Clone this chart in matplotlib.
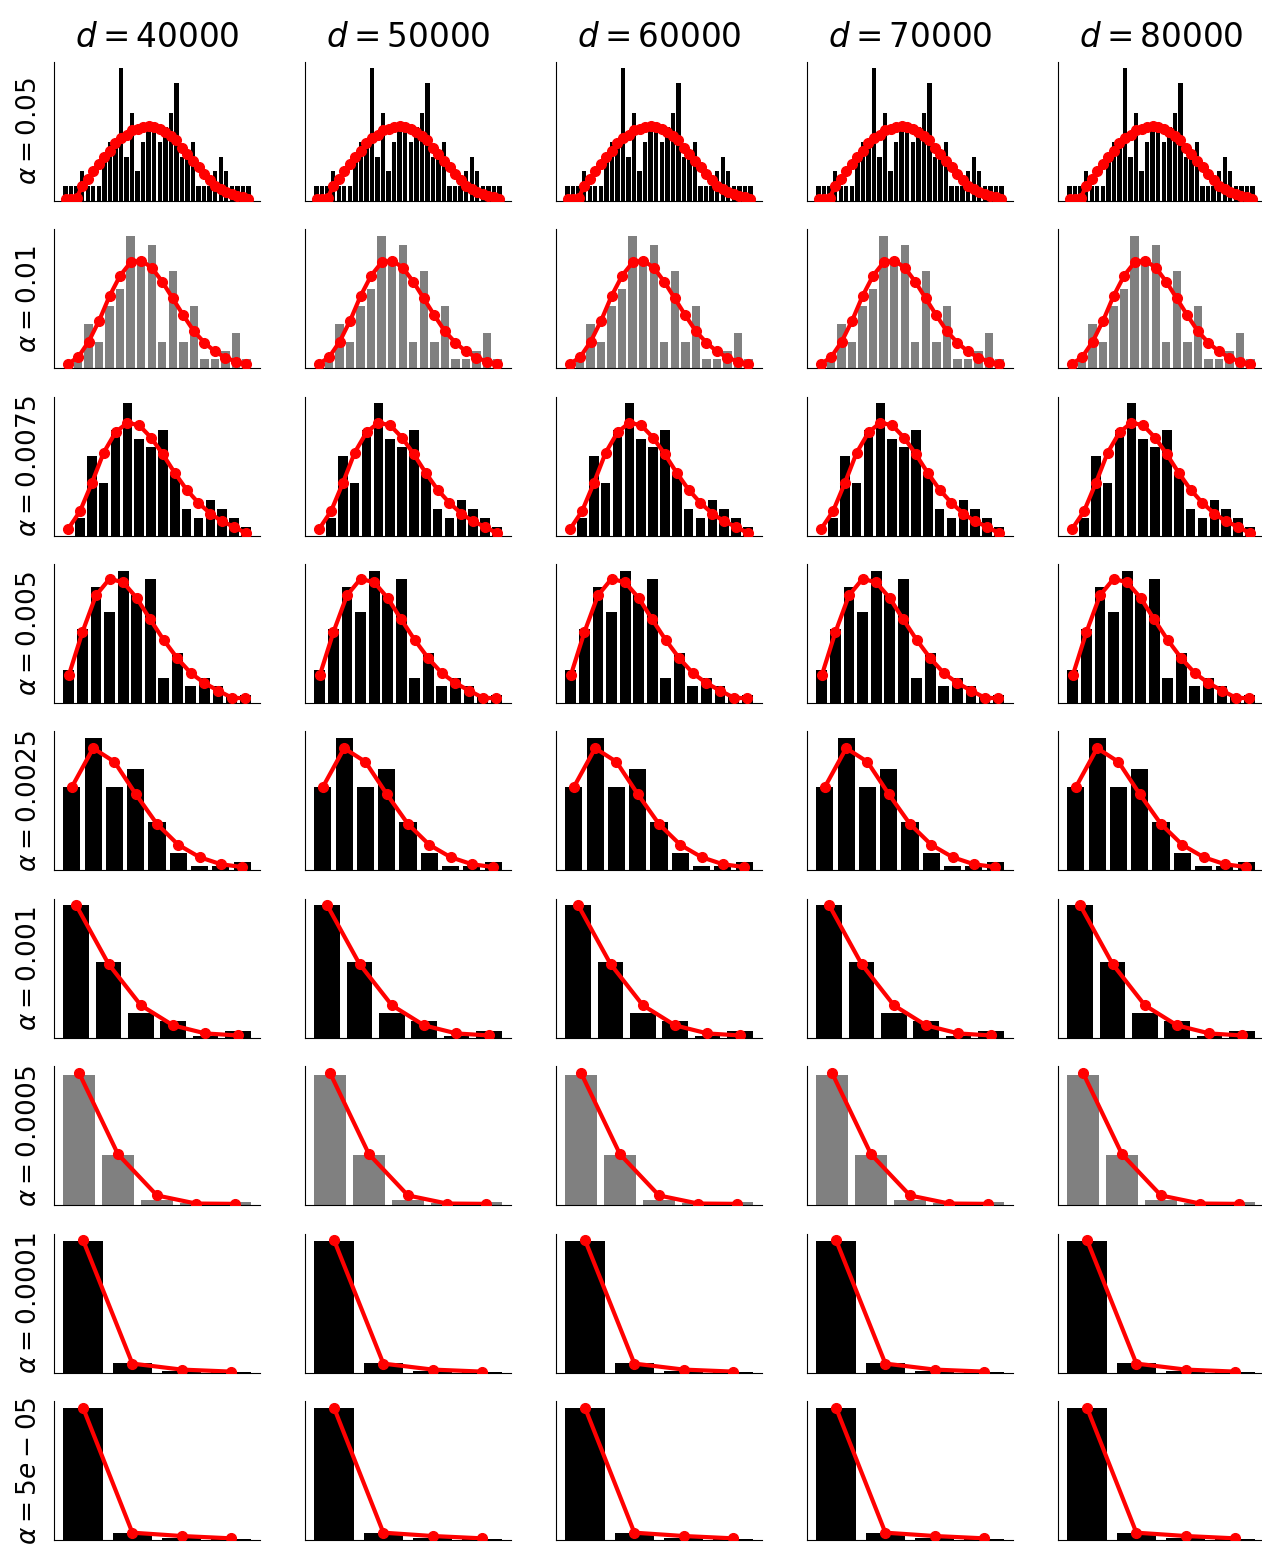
import numpy as np
import matplotlib
matplotlib.use("Agg")
import matplotlib.pyplot as plt

alphas = [0.05, 0.01, 0.0075, 0.005, 0.0025, 0.001, 0.0005, 0.0001, 5e-05]
dims = [40000, 50000, 60000, 70000, 80000]
bar_colors = ["black", "gray", "black", "black", "black", "black", "gray", "black", "black"]

# observed counts per bin (bins at 0, 1, 2, ...)
counts_a005 = [1, 1, 1, 2, 1, 1, 1, 3, 4, 4, 9, 3, 6, 2, 4, 5, 5, 4, 5, 6, 8, 3, 3, 4, 1, 1, 1, 2, 3, 2, 1, 1, 1, 1]
counts_a001 = [0, 1, 5, 3, 7, 9, 15, 12, 14, 3, 11, 3, 7, 1, 1, 2, 4, 1]
counts_a00075 = [0, 2, 9, 6, 12, 15, 11, 10, 12, 7, 3, 2, 4, 3, 2, 1]
counts_a0005 = [4, 9, 14, 11, 16, 13, 15, 3, 6, 2, 3, 2, 1, 1]
counts_a00025 = [19, 30, 19, 23, 11, 4, 1, 1, 2]
counts_a0001 = [79, 45, 15, 10, 1, 4]
counts_a00005 = [51, 19.5, 2, 1, 1.2]
counts_a00001 = [79, 6, 1, 0.6]
counts_a000005 = [79.6, 4.4, 1, 0.6]

# expected counts (red curve)
expected_a005 = [0.15, 0.15, 0.2, 1.0, 1.5, 2.0, 2.5, 3.0, 3.4, 3.9, 4.3, 4.5, 4.8, 4.9, 5.0, 5.1, 5.0,
                 4.9, 4.65, 4.4, 4.1, 3.6, 3.2, 2.7, 2.3, 1.8, 1.4, 1.0, 0.8, 0.6, 0.45, 0.35, 0.25, 0.15]
expected_a001 = [0.45, 1.25, 3.0, 5.4, 8.2, 10.5, 12.0, 12.2, 11.4, 9.8, 7.9, 6.0, 4.2, 2.9, 1.9, 1.2, 0.75, 0.5]
expected_a00075 = [0.75, 2.75, 5.95, 9.4, 11.7, 12.8, 12.5, 11.1, 9.2, 7.1, 5.2, 3.7, 2.5, 1.6, 1.0, 0.27]
expected_a0005 = [3.35, 8.55, 13.0, 15.0, 14.6, 12.7, 10.1, 7.6, 5.4, 3.6, 2.4, 1.5, 0.65, 0.56]
expected_a00025 = [18.9, 27.7, 24.6, 17.3, 10.5, 5.8, 3.0, 1.4, 0.76]
expected_a0001 = [79, 44, 19.4, 7.4, 2.6, 1.4]
expected_a00005 = [51.7, 19.9, 3.8, 0.65, 0.52]
expected_a00001 = [79.4, 5.4, 1.8, 0.6]
expected_a000005 = [79.4, 4.4, 2.4, 1.0]

all_counts = [counts_a005, counts_a001, counts_a00075, counts_a0005, counts_a00025,
              counts_a0001, counts_a00005, counts_a00001, counts_a000005]
all_expected = [expected_a005, expected_a001, expected_a00075, expected_a0005, expected_a00025,
                expected_a0001, expected_a00005, expected_a00001, expected_a000005]

W, H = 1262, 1548
fig = plt.figure(figsize=(W / 100, H / 100), dpi=100)

ax_w, ax_h = 206, 139
for i, a in enumerate(alphas):
    for j, d in enumerate(dims):
        left = 54 + 251 * j
        bottom = 200.8 + 167.4 * i
        ax = fig.add_axes([left / W, 1 - bottom / H, ax_w / W, ax_h / H])
        c = all_counts[i]
        e = all_expected[i]
        ax.bar(np.arange(len(c)), c, width=0.8, color=bar_colors[i])
        ax.plot(np.arange(len(e)), e, color="red", lw=3, marker="o", ms=7, zorder=3)
        ax.spines["top"].set_visible(False)
        ax.spines["right"].set_visible(False)
        ax.set_xticks([])
        ax.set_yticks([])
        if i == 0:
            ax.set_title(f"$d = {d}$", fontsize=23.5, pad=11)
        if j == 0:
            ax.set_ylabel(f"$\\alpha = {a}$", fontsize=19, labelpad=9)

fig.savefig("out.png", dpi=100)
